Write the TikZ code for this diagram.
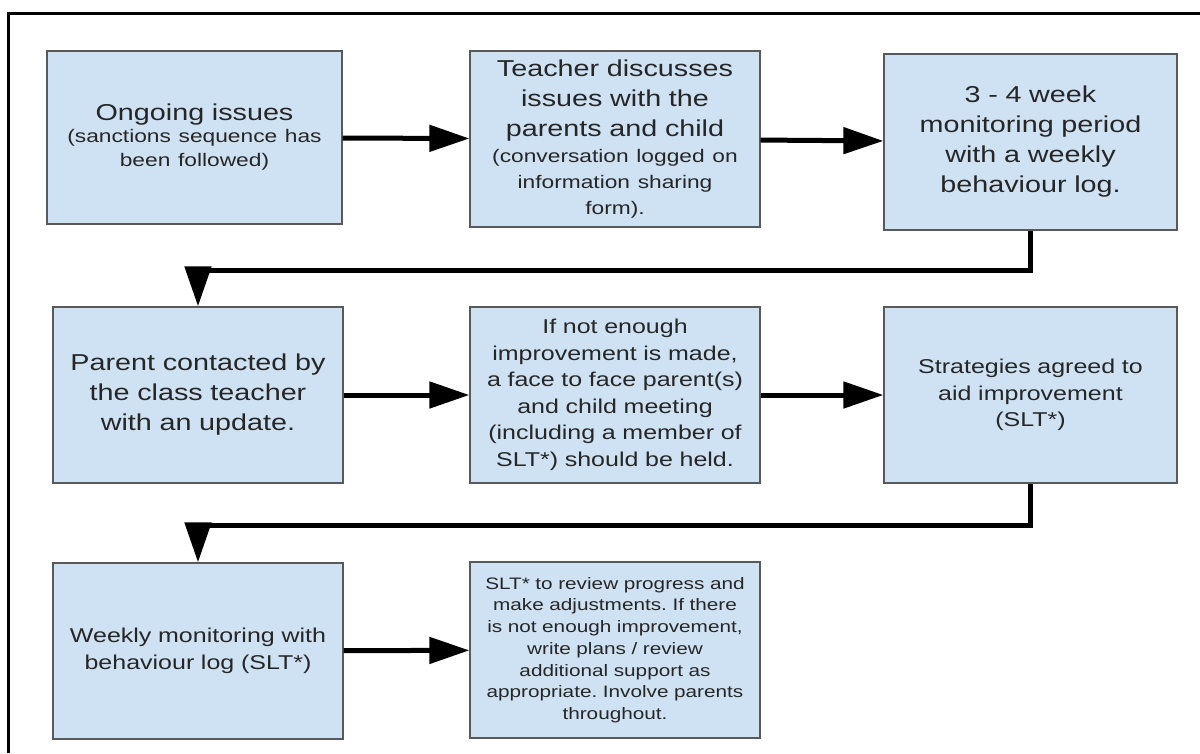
\documentclass[tikz,border=0pt]{standalone}
\usepackage{fontspec}
\usetikzlibrary{arrows.meta}
\newfontfamily\boxfont[FakeStretch=1.25,WordSpace=1.25]{Liberation Sans}
\definecolor{boxblue}{HTML}{CFE2F3}
\definecolor{boxedge}{HTML}{595959}
\frenchspacing
\newcommand*\bigtxt{\fontsize{23}{30}\selectfont}
\newcommand*\subtxt{\fontsize{18.2}{26}\selectfont}
\newcommand*\midtxt{\fontsize{20}{26.5}\selectfont}
\newcommand*\smalltxt{\fontsize{16.6}{21.7}\selectfont}
\tikzset{
  stepbox/.style={draw=boxedge,line width=1.3pt,fill=boxblue,
    minimum width=292pt,minimum height=176pt,text width=286pt,
    align=center,inner sep=0pt,font=\boxfont\bigtxt,text=black!85},
  flow/.style={line width=5pt,-{Triangle[length=40pt,width=26pt]}}
}

\begin{document}
\begin{tikzpicture}[x=1pt,y=-1pt]
\useasboundingbox (0,0) rectangle (1200,753);
\draw[line width=3pt] (8,753) -- (8,13) -- (1200,13);

\node[stepbox,minimum width=295pt,minimum height=173pt] (ongoing) at (194.5,137.5)
  {Ongoing issues\\[-4pt] \subtxt (sanctions sequence has\\[-2pt] been followed)\par};
\node[stepbox,minimum width=290pt] (discuss) at (615,139)
  {Teacher discusses\\ issues with the\\ parents and child\\ \subtxt (conversation logged on\\ information sharing\\ form).\par};
\node[stepbox,minimum width=293pt] (monitor) at (1030.5,142)
  {3 - 4 week\\ monitoring period\\ with a weekly\\ behaviour log.};

\node[stepbox,minimum width=290pt] (contact) at (198,395)
  {Parent contacted by\\ the class teacher\\ with an update.};
\node[stepbox,minimum width=290pt,font=\boxfont\midtxt] (meeting) at (615,395)
  {If not enough\\ improvement is made,\\ a face to face parent(s)\\ and child meeting\\ (including a member of\\ SLT*) should be held.};
\node[stepbox,minimum width=293pt,font=\boxfont\midtxt] (strategy) at (1030.5,395)
  {Strategies agreed to\\ aid improvement\\ (SLT*)};

\node[stepbox,minimum width=290pt,font=\boxfont\midtxt] (weekly) at (198,651)
  {Weekly monitoring with\\ behaviour log (SLT*)};
\node[stepbox,minimum width=290pt,font=\boxfont\smalltxt] (review) at (615,650)
  {SLT* to review progress and\\ make adjustments. If there\\ is not enough improvement,\\ write plans / review\\ additional support as\\ appropriate. Involve parents\\ throughout.};

\draw[flow] (ongoing) -- (discuss);
\draw[flow] (discuss) -- (monitor);
\draw[flow] (monitor.south) -- ++(0,40) -| (contact.north);
\draw[flow] (contact) -- (meeting);
\draw[flow] (meeting) -- (strategy);
\draw[flow] (strategy.south) -- ++(0,42) -| (weekly.north);
\draw[flow] (weekly) -- (review);
\end{tikzpicture}
\end{document}
